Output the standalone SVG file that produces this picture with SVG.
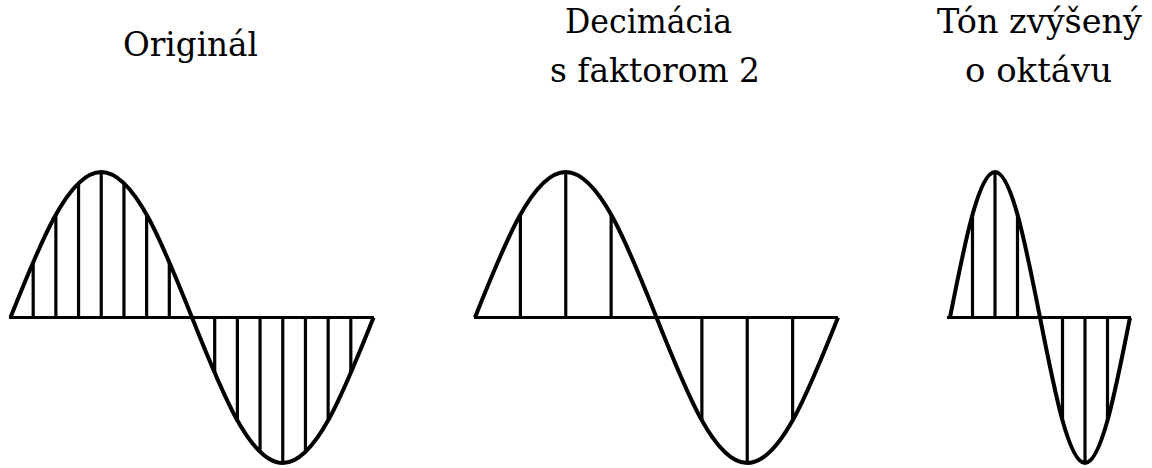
<svg xmlns="http://www.w3.org/2000/svg" width="1152" height="468" viewBox="0 0 1152 468">
<style>
.t{font-family:'DejaVu Serif','Liberation Serif',serif;font-size:34px;fill:#000}
.w{fill:none;stroke:#000;stroke-width:4;stroke-linejoin:round}
.b{stroke:#000;stroke-width:3;fill:none}
.s{stroke:#000;stroke-width:3.2;fill:none}
</style>
<rect width="1152" height="468" fill="#fff"/>
<g id="original">
<text class="t" x="123" y="56" textLength="135" lengthAdjust="spacingAndGlyphs">Originál</text>
<line class="b" x1="9" y1="317.5" x2="374" y2="317.5"/>
<g class="s">
<line x1="33.19" y1="261.8" x2="33.19" y2="317.5"/>
<line x1="55.88" y1="214.6" x2="55.88" y2="317.5"/>
<line x1="78.56" y1="183.1" x2="78.56" y2="317.5"/>
<line x1="101.25" y1="172" x2="101.25" y2="317.5"/>
<line x1="123.94" y1="183.1" x2="123.94" y2="317.5"/>
<line x1="146.63" y1="214.6" x2="146.63" y2="317.5"/>
<line x1="169.31" y1="261.8" x2="169.31" y2="317.5"/>
<line x1="214.69" y1="373.2" x2="214.69" y2="317.5"/>
<line x1="237.38" y1="420.4" x2="237.38" y2="317.5"/>
<line x1="260.06" y1="451.9" x2="260.06" y2="317.5"/>
<line x1="282.75" y1="463" x2="282.75" y2="317.5"/>
<line x1="305.44" y1="451.9" x2="305.44" y2="317.5"/>
<line x1="328.13" y1="420.4" x2="328.13" y2="317.5"/>
<line x1="350.81" y1="373.2" x2="350.81" y2="317.5"/>
</g>
<path class="w" d="M10.5,317.5 c29.59,-74.54 57.91,-145.5 90.75,-145.5 s61.16,70.96 90.75,145.5 s57.91,145.5 90.75,145.5 s61.16,-70.96 90.75,-145.5"/>
</g>
<g id="decimacia">
<text class="t" x="565" y="33" textLength="167" lengthAdjust="spacingAndGlyphs">Decimácia</text>
<text class="t" x="550" y="82" textLength="210" lengthAdjust="spacingAndGlyphs">s faktorom 2</text>
<line class="b" x1="474" y1="317.5" x2="838" y2="317.5"/>
<g class="s">
<line x1="520.38" y1="214.6" x2="520.38" y2="317.5"/>
<line x1="565.75" y1="172" x2="565.75" y2="317.5"/>
<line x1="611.13" y1="214.6" x2="611.13" y2="317.5"/>
<line x1="701.88" y1="420.4" x2="701.88" y2="317.5"/>
<line x1="747.25" y1="463" x2="747.25" y2="317.5"/>
<line x1="792.63" y1="420.4" x2="792.63" y2="317.5"/>
</g>
<path class="w" d="M475,317.5 c29.59,-74.54 57.91,-145.5 90.75,-145.5 s61.16,70.96 90.75,145.5 s57.91,145.5 90.75,145.5 s61.16,-70.96 90.75,-145.5"/>
</g>
<g id="ton">
<text class="t" x="937" y="33" textLength="205" lengthAdjust="spacingAndGlyphs">Tón zvýšený</text>
<text class="t" x="965" y="82" textLength="147" lengthAdjust="spacingAndGlyphs">o oktávu</text>
<line class="b" x1="947" y1="317.5" x2="1131" y2="317.5"/>
<g class="s">
<line x1="972.5" y1="214.6" x2="972.5" y2="317.5"/>
<line x1="995" y1="172" x2="995" y2="317.5"/>
<line x1="1017.5" y1="214.6" x2="1017.5" y2="317.5"/>
<line x1="1062.5" y1="420.4" x2="1062.5" y2="317.5"/>
<line x1="1085" y1="463" x2="1085" y2="317.5"/>
<line x1="1107.5" y1="420.4" x2="1107.5" y2="317.5"/>
</g>
<path class="w" d="M950,317.5 c14.67,-74.54 28.71,-145.5 45,-145.5 s30.33,70.96 45,145.5 s28.71,145.5 45,145.5 s30.33,-70.96 45,-145.5"/>
</g>
<g id="connectors"/>
</svg>
